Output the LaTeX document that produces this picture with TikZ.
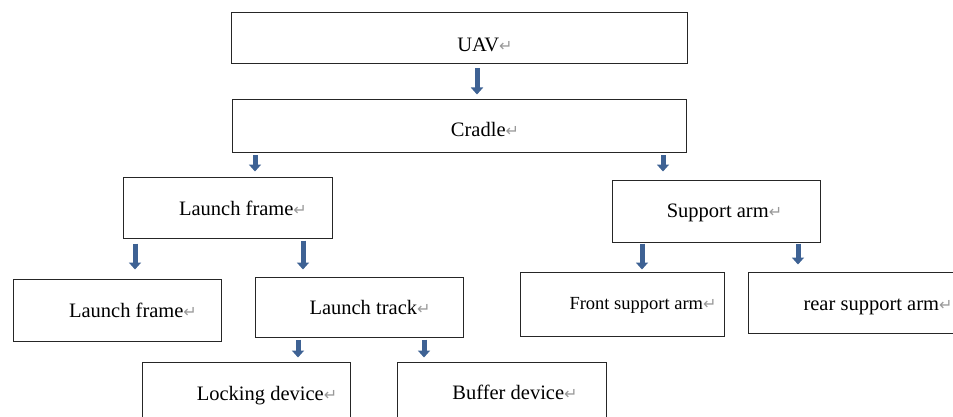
\documentclass[tikz,border=0pt]{standalone}
\usepackage{fontspec}
\setmainfont{Liberation Serif}
\newfontfamily\symfont{DejaVu Sans}
\usetikzlibrary{arrows.meta,positioning,calc}
\definecolor{arrblue}{RGB}{62,98,148}
\newcommand{\retmark}{{\symfont\fontsize{16}{16}\selectfont\textcolor{black!40}{↵}}}

\begin{document}
\begin{tikzpicture}[
    x=1pt, y=-1pt,
    box/.style={rectangle, draw=black!85, line width=1pt, inner sep=0pt},
    txt/.style={anchor=base, inner sep=0pt, font=\fontsize{20.5}{24}\selectfont},
    arr/.style={-{Triangle[width=12pt,length=7pt]}, line width=5pt, draw=arrblue}
]
\useasboundingbox (0,0) rectangle (953,417);

% Boxes
\node[box, minimum width=456pt, minimum height=51pt] (uav) at (459,38.5) {};
\node[box, minimum width=454pt, minimum height=53pt] (cradle) at (459,126.5) {};
\node[box, minimum width=209pt, minimum height=61pt] (lframe) at (227.5,207.5) {};
\node[box, minimum width=208pt, minimum height=62pt] (supp) at (716,211) {};
\node[box, minimum width=208pt, minimum height=62pt] (lframe2) at (117,310) {};
\node[box, minimum width=208pt, minimum height=60pt] (ltrack) at (359,307) {};
\node[box, minimum width=204pt, minimum height=64pt] (front) at (622,304) {};
\node[box, minimum width=208pt, minimum height=61pt] (rear) at (852,302.5) {};
\node[box, minimum width=208pt, minimum height=62pt] (lock) at (246,393) {};
\node[box, minimum width=209pt, minimum height=62pt] (buffer) at (501.5,393) {};

% Labels
\node[txt] (uavt) at (485,52) {UAV\retmark};
\node[txt] (cradlet) at (485,137) {Cradle\retmark};
\node[txt] (lframet) at (243,215) {Launch frame\retmark};
\node[txt] (suppt) at (724.5,217) {Support arm\retmark};
\node[txt] (lframe2t) at (133,317) {Launch frame\retmark};
\node[txt] (ltrackt) at (370,314) {Launch track\retmark};
\node[txt, font=\fontsize{18.5}{22}\selectfont] (frontt) at (643,309) {Front support arm\retmark};
\node[txt] (reart) at (878,310) {rear support arm\retmark};
\node[txt] (lockt) at (267,400) {Locking device\retmark};
\node[txt] (buffert) at (515,399) {Buffer device\retmark};

% Arrows
\draw[arr, shorten <=4pt, shorten >=5pt] ([xshift=18pt]uav.south) -- ([xshift=18pt]cradle.north);
\draw[arr, shorten <=2pt, shorten >=5pt] ([xshift=-204pt]cradle.south) -- ([xshift=27.5pt]lframe.north);
\draw[arr, shorten <=2pt, shorten >=8pt] ([xshift=204pt]cradle.south) -- ([xshift=-53pt]supp.north);
\draw[arr, shorten <=5pt, shorten >=9pt] ([xshift=-92.5pt]lframe.south) -- ([xshift=18pt]lframe2.north);
\draw[arr, shorten <=2pt, shorten >=7pt] ([xshift=75.5pt]lframe.south) -- ([xshift=-56pt]ltrack.north);
\draw[arr, shorten <=1pt, shorten >=2pt] ([xshift=-74pt]supp.south) -- ([xshift=20pt]front.north);
\draw[arr, shorten <=1pt, shorten >=7pt] ([xshift=82pt]supp.south) -- ([xshift=-54pt]rear.north);
\draw[arr, shorten <=2pt, shorten >=4pt] ([xshift=-61pt]ltrack.south) -- ([xshift=52pt]lock.north);
\draw[arr, shorten <=2pt, shorten >=4pt] ([xshift=65pt]ltrack.south) -- ([xshift=-77.5pt]buffer.north);

\end{tikzpicture}
\end{document}
